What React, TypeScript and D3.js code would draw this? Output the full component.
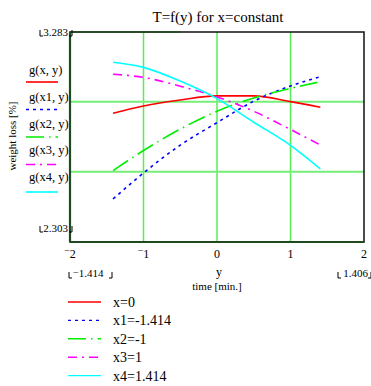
import React from "react";
import * as d3 from "d3";

const yTimes = [-1.414, -1, -0.5, 0, 0.5, 1, 1.406];
const gX0 = [2.904, 2.938, 2.966, 2.985, 2.985, 2.958, 2.932];
const gX1 = [2.504, 2.625, 2.755, 2.86, 2.96, 3.031, 3.074];
const gX2 = [2.636, 2.73, 2.83, 2.913, 2.975, 3.02, 3.051];
const gX3 = [3.086, 3.071, 3.03, 2.98, 2.913, 2.828, 2.756];
const gX4 = [3.142, 3.118, 3.054, 2.972, 2.862, 2.754, 2.644];
const seriesNames = ["g(x, y)", "g(x1, y)", "g(x2, y)", "g(x3, y)", "g(x4, y)"];
const legendNames = ["x=0", "x1=-1.414", "x2=-1", "x3=1", "x4=1.414"];
const xTicks = [-2, -1, 0, 1, 2];
const xGrid = [-1, 0, 1];
const yMarkers = [2.958, 2.631];
const xDomain = [-2, 2];
const yDomain = [2.303, 3.283];

const colors = ["#ff0000", "#0000ff", "#00ee00", "#ff00ff", "#00ffff"];
const dashes = ["", "3,4", "18,5,1.5,5", "9,5,2,5", ""];

export default function App() {
  const L = 70, R = 364, T = 32, B = 242;
  const x = d3.scaleLinear().domain(xDomain).range([L, R]);
  const y = d3.scaleLinear().domain(yDomain).range([B, T]);
  const all = [gX0, gX1, gX2, gX3, gX4];
  const line = d3
    .line<number>()
    .x((_, i) => x(yTimes[i]))
    .y((d) => y(d))
    .curve(d3.curveMonotoneX);
  const font = "Liberation Serif";
  const bracket = (x0: number, x1: number, yc: number) => (
    <g stroke="#000" strokeWidth={1} fill="none">
      <path d={`M${x0},${yc - 3}V${yc + 3}H${x0 + 3}`} />
      <path d={`M${x1},${yc - 3}V${yc + 3}H${x1 - 3}`} />
    </g>
  );
  return (
    <svg
      width={371}
      height={386}
      style={{ position: "absolute", left: 0, top: 0 }}
    >
      <rect width={371} height={386} fill="#fff" />
      {xGrid.map((v) => (
        <line key={v} x1={x(v)} x2={x(v)} y1={T} y2={B} stroke="#55ee55" strokeWidth={1.5} />
      ))}
      {yMarkers.map((v) => (
        <line key={v} x1={L} x2={R} y1={y(v)} y2={y(v)} stroke="#77ee77" strokeWidth={2} />
      ))}
      {all.map((s, i) => (
        <path
          key={i}
          d={line(s) || ""}
          fill="none"
          stroke={colors[i]}
          strokeWidth={1.6}
          strokeDasharray={dashes[i]}
        />
      ))}
      <rect x={L} y={T} width={R - L} height={B - T} fill="none" stroke="#111" strokeWidth={1.5} />
      <line x1={L} x2={L} y1={T} y2={B} stroke="#1f4a1f" strokeWidth={2.2} />
      <line x1={L} x2={R} y1={B} y2={B} stroke="#1f4a1f" strokeWidth={2.2} />
      <line x1={L} x2={x(-0.5)} y1={T} y2={T} stroke="#1f4a1f" strokeWidth={1.5} />
      {bracket(40, 72, 33)}
      {bracket(40, 72, 229)}
      {bracket(69, 112, 275)}
      {bracket(338, 371, 275)}
      <g fontFamily={font} fill="#000">
        <text x={218} y={22} fontSize={15} textAnchor="middle">
          T=f(y) for x=constant
        </text>
        <text x={68} y={36} fontSize={11} textAnchor="end">{yDomain[1].toFixed(3)}</text>
        <text x={68} y={232} fontSize={11} textAnchor="end">{yDomain[0].toFixed(3)}</text>
        {xTicks.map((v) => (
          <text key={v} x={x(v)} y={258} fontSize={12} textAnchor="middle">
            {v < 0 ? (
              <>
                <tspan dy={-4} fontSize={10}>−</tspan>
                <tspan dy={4}>{Math.abs(v)}</tspan>
              </>
            ) : (
              String(v)
            )}
          </text>
        ))}
        <text x={73} y={277} fontSize={11}>
          <tspan dy={-1} fontSize={10}>−</tspan>
          <tspan dy={1}>{Math.abs(yTimes[0]).toFixed(3)}</tspan>
        </text>
        <text x={368} y={277} fontSize={11} textAnchor="end">{yTimes[yTimes.length - 1].toFixed(3)}</text>
        <text x={219} y={276} fontSize={12} textAnchor="middle">y</text>
        <text x={217} y={290} fontSize={11} textAnchor="middle">time [min.]</text>
        <text transform="translate(16,136) rotate(-90)" fontSize={11} textAnchor="middle">
          weight loss [%]
        </text>
        {seriesNames.map((n, i) => (
          <text key={n} x={29} y={74 + i * 26.8} fontSize={12.5}>{n}</text>
        ))}
        {legendNames.map((n, i) => (
          <text key={n} x={113} y={307 + i * 18.4} fontSize={14}>{n}</text>
        ))}
      </g>
      {seriesNames.map((n, i) => (
        <line
          key={n}
          x1={26}
          x2={58}
          y1={82 + i * 27.5}
          y2={82 + i * 27.5}
          stroke={colors[i]}
          strokeWidth={1.6}
          strokeDasharray={dashes[i]}
        />
      ))}
      {legendNames.map((n, i) => (
        <line
          key={n}
          x1={68}
          x2={101}
          y1={302 + i * 18.4}
          y2={302 + i * 18.4}
          stroke={colors[i]}
          strokeWidth={1.4}
          strokeDasharray={dashes[i]}
        />
      ))}
    </svg>
  );
}
